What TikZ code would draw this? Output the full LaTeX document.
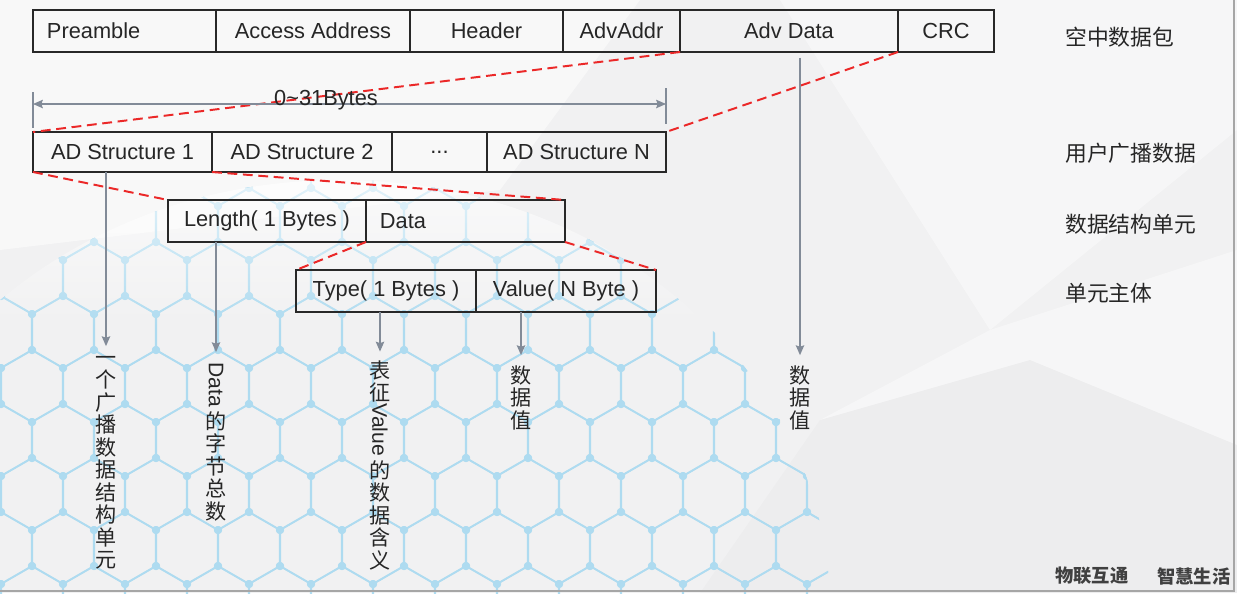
\documentclass[tikz,border=0pt]{standalone}
\usepackage{fontspec}
\usepackage{graphicx}
\setmainfont{Liberation Sans}
\newfontfamily\cjk{Noto Sans CJK SC}
\usetikzlibrary{calc,arrows.meta,fadings}

\definecolor{meshblue}{RGB}{174,219,240}
\definecolor{pointgray}{RGB}{130,139,152}
\definecolor{cutred}{RGB}{235,40,40}
\definecolor{boxgray}{RGB}{40,40,40}
\definecolor{bggray}{RGB}{241,241,242}

\newcommand{\vlatin}[1]{\raisebox{\depth}{\rotatebox{-90}{\rmfamily #1}}}

\begin{document}
\begin{tikzpicture}[x=0.025cm, y=-0.025cm,
	%Option for the pointer tips
	>={Stealth[length=7pt, width=6pt, inset=1pt]},
	cell/.style={draw=boxgray, line width=1.2pt, inner sep=0pt, outer sep=0pt,
		minimum height=1.05cm, text=black!85, font=\fontsize{15.5}{18}\selectfont},
	lcell/.style={cell, align=left, inner xsep=0.35cm},
	cut/.style={cutred, line width=1.4pt, dash pattern=on 7pt off 4pt},
	pointer/.style={pointgray, line width=0.9pt},
	vlabel/.style={inner sep=0pt, align=center, text=black!85, font=\cjk\fontsize{15}{16}\selectfont},
	rowlabel/.style={anchor=west, inner sep=0pt, text=black!85, font=\cjk\fontsize{15.5}{18}\selectfont},
	mesh/.style={meshblue, line width=1.2pt},
	]
	\useasboundingbox (0,0) rectangle (1237,593);
	
	% Background
	\fill[bggray] (0,0) rectangle (1237,593);
	\fill[white, opacity=0.5] (0,0) -- (640,0) -- (500,190) -- (0,250) -- cycle;
	\fill[white, opacity=0.4] (780,0) -- (1237,0) -- (1237,130) -- (990,330) -- cycle;
	\fill[white, opacity=0.4] (820,420) -- (1030,360) -- (1237,445) -- (1237,250) -- (990,330) -- cycle;
	\fill[black, opacity=0.015] (820,420) -- (1030,360) -- (1237,445) -- (1237,593) -- (700,593) -- cycle;
	
	% Globe mesh
	\begin{scope}
	\clip (340,610) ellipse [x radius=490, y radius=430];
	\foreach \j in {0,...,9} {
		\foreach \i in {0,...,14} {
			\pgfmathsetmacro\cx{\i*62 + mod(\j,2)*31 - 30}
			\pgfmathsetmacro\cy{170 + \j*54}
			\draw[mesh] (\cx,\cy) +(30:36) -- +(90:36) -- +(150:36) -- +(210:36)
			-- +(270:36) -- +(330:36) -- cycle;
			\foreach \a in {30,90,...,330}
			\fill[meshblue] ($(\cx,\cy)+(\a:36)$) circle [radius=4];
		}
	}
	\fill[white, opacity=0.7, path fading=south] (-200,170) rectangle (900,330);
	\end{scope}
	
	% Slide frame
	\draw[gray!70, line width=1.5pt] (0,591) -- (1234,591) -- (1234,0);
	
	% Air packet
	\node[lcell, minimum width=4.575cm, text width=3.875cm] (pre) at (124.5,31) {Preamble};
	\node[cell, minimum width=4.85cm]  (acc)  at (313,31)   {Access Address};
	\node[cell, minimum width=3.825cm] (hdr)  at (486.5,31) {Header};
	\node[cell, minimum width=2.925cm] (addr) at (621.5,31) {AdvAddr};
	\node[cell, minimum width=5.45cm]  (advd) at (789,31)   {Adv Data};
	\node[cell, minimum width=2.4cm]   (crc)  at (946,31)   {CRC};
	
	% Advertising data
	\node[cell, minimum width=4.475cm, minimum height=1cm] (ad1)  at (122.5,152) {AD Structure 1};
	\node[cell, minimum width=4.5cm,   minimum height=1cm] (ad2)  at (302,152)   {AD Structure 2};
	\node[cell, minimum width=2.375cm, minimum height=1cm] (dots) at (439.5,152) {...};
	\node[cell, minimum width=4.475cm, minimum height=1cm] (adn)  at (576.5,152) {AD Structure N};
	
	% AD structure
	\node[cell, minimum width=4.95cm] (len) at (267,221) {Length( 1 Bytes )};
	\node[lcell, minimum width=4.975cm, text width=4.275cm] (dat) at (465.5,221) {Data};
	
	% Unit body
	\node[cell, minimum width=4.5cm] (typ) at (386,291) {Type( 1 Bytes )};
	\node[cell, minimum width=4.5cm] (val) at (566,291) {Value( N Byte )};
	
	% Zoom lines
	\draw[cut] (addr.south east) -- (ad1.north west);
	\draw[cut] (crc.south west)  -- (adn.north east);
	\draw[cut] (ad1.south west)  -- (len.north west);
	\draw[cut] (ad1.south east)  -- (dat.north east);
	\draw[cut] (dat.south west)  -- (typ.north west);
	\draw[cut] (dat.south east)  -- (val.north east);
	
	% Length of the advertising data
	\coordinate (dimL) at (33,104);
	\coordinate (dimR) at (666,104);
	\draw[pointer] ($(dimL)+(0,-12)$) -- ($(dimL)+(0,24)$);
	\draw[pointer] ($(dimR)+(0,-16)$) -- ($(dimR)+(0,20)$);
	\draw[pointer,<->] (dimL) -- (dimR);
	\node[inner sep=0pt, anchor=base, text=black!85, font=\fontsize{15.5}{18}\selectfont]
	(dimlbl) at (326,105) {0\textasciitilde 31Bytes};
	
	% Row names
	\node[rowlabel] (lblair)  at (1065,37)  {空中数据包};
	\node[rowlabel] (lbluser) at (1065,153) {用户广播数据};
	\node[rowlabel] (lblunit) at (1065,224) {数据结构单元};
	\node[rowlabel] (lblbody) at (1065,293) {单元主体};
	
	% Notes
	\node[vlabel, anchor=north] (vl1) at (106,356) {一\\个\\广\\播\\数\\据\\结\\构\\单\\元};
	\node[vlabel, anchor=north] (vl2) at (216,362) {\vlatin{Data}\\的\\字\\节\\总\\数};
	\node[vlabel, anchor=north] (vl3) at (380,360) {表\\征\\\vlatin{Value}\\的\\数\\据\\含\\义};
	\node[vlabel, anchor=north] (vl4) at (521,365) {数\\据\\值};
	\node[vlabel, anchor=north] (vl5) at (800,365) {数\\据\\值};
	
	\draw[pointer,->,shorten >=7pt] (ad1.south -| vl1.north) -- (vl1.north);
	\draw[pointer,->,shorten >=7pt] (len.south -| vl2.north) -- (vl2.north);
	\draw[pointer,->,shorten >=6pt] (typ.south -| vl3.north) -- (vl3.north);
	\draw[pointer,->,shorten >=7pt] (val.south -| vl4.north) -- (vl4.north);
	\draw[pointer,->,shorten <=4pt,shorten >=7pt] (advd.south -| vl5.north) -- (vl5.north);
	
	% Footer
	\node[anchor=west, inner sep=0pt, text=black!75, font=\cjk\bfseries\fontsize{13}{15}\selectfont]
	(slogan1) at (1055,576) {物联互通};
	\node[anchor=west, inner sep=0pt, text=black!75, font=\cjk\bfseries\fontsize{13}{15}\selectfont]
	(slogan2) at (1157,576) {智慧生活};
\end{tikzpicture}
\end{document}
